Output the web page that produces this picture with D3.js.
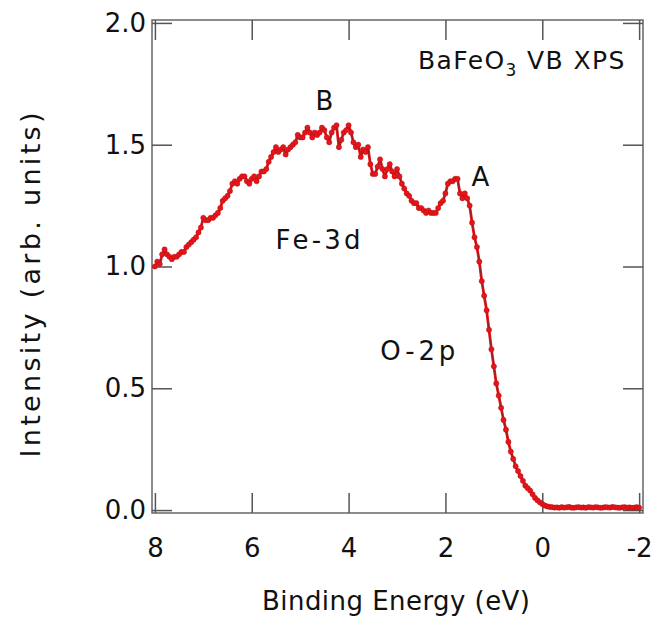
<!DOCTYPE html>
<html>
<head>
<meta charset="utf-8">
<script src="https://cdn.jsdelivr.net/npm/d3@7"></script>
<style>
  html, body { margin: 0; padding: 0; background: #fff; }
  svg { display: block; }
  text { font-family: "DejaVu Sans", Verdana, sans-serif; fill: #111; }
</style>
</head>
<body>
<svg id="chart" width="654" height="618"></svg>
<script>
// Binding energy (eV)
const energy = [
  8.00,7.95,7.90,7.85,7.80,7.75,7.70,7.65,7.60,7.55,
  7.50,7.45,7.40,7.35,7.30,7.25,7.20,7.15,7.10,7.05,
  7.00,6.95,6.90,6.85,6.80,6.75,6.70,6.65,6.60,6.55,
  6.50,6.45,6.40,6.35,6.30,6.25,6.20,6.15,6.10,6.05,
  6.00,5.95,5.90,5.85,5.80,5.75,5.70,5.65,5.60,5.55,
  5.50,5.45,5.40,5.35,5.30,5.25,5.20,5.15,5.10,5.05,
  5.00,4.95,4.90,4.85,4.80,4.75,4.70,4.65,4.60,4.55,
  4.50,4.45,4.40,4.35,4.30,4.25,4.20,4.15,4.10,4.05,
  4.00,3.95,3.90,3.85,3.80,3.75,3.70,3.65,3.60,3.55,
  3.50,3.45,3.40,3.35,3.30,3.25,3.20,3.15,3.10,3.05,
  3.00,2.95,2.90,2.85,2.80,2.75,2.70,2.65,2.60,2.55,
  2.50,2.45,2.40,2.35,2.30,2.25,2.20,2.15,2.10,2.05,
  2.00,1.95,1.90,1.85,1.80,1.75,1.70,1.65,1.60,1.55,
  1.50,1.45,1.40,1.35,1.30,1.25,1.20,1.15,1.10,1.05,
  1.00,0.95,0.90,0.85,0.80,0.75,0.70,0.65,0.60,0.55,
  0.50,0.45,0.40,0.35,0.30,0.25,0.20,0.15,0.10,0.05,
  0.00,-0.05,-0.10,-0.15,-0.20,-0.25,-0.30,-0.35,-0.40,-0.45,
  -0.50,-0.55,-0.60,-0.65,-0.70,-0.75,-0.80,-0.85,-0.90,-0.95,
  -1.00,-1.05,-1.10,-1.15,-1.20,-1.25,-1.30,-1.35,-1.40,-1.45,
  -1.50,-1.55,-1.60,-1.65,-1.70,-1.75,-1.80,-1.85,-1.90,-1.95,
  -2.00
];
// Intensity (arb. units)
const intensity = [
  1.00,1.02,1.01,1.05,1.07,1.05,1.04,1.03,1.04,1.04,
  1.05,1.06,1.06,1.08,1.09,1.10,1.11,1.12,1.14,1.16,
  1.20,1.19,1.19,1.20,1.20,1.21,1.22,1.24,1.27,1.28,
  1.29,1.31,1.34,1.35,1.34,1.36,1.37,1.37,1.35,1.34,
  1.36,1.37,1.35,1.37,1.39,1.39,1.40,1.43,1.45,1.47,
  1.49,1.47,1.48,1.49,1.46,1.48,1.49,1.50,1.51,1.54,
  1.53,1.53,1.55,1.57,1.55,1.53,1.55,1.54,1.55,1.57,
  1.56,1.53,1.51,1.55,1.57,1.58,1.49,1.52,1.55,1.56,
  1.58,1.55,1.51,1.49,1.50,1.45,1.48,1.47,1.49,1.42,
  1.38,1.38,1.41,1.44,1.40,1.37,1.40,1.42,1.39,1.37,
  1.40,1.37,1.34,1.32,1.30,1.29,1.27,1.26,1.26,1.24,
  1.24,1.23,1.22,1.23,1.22,1.22,1.22,1.24,1.26,1.27,
  1.30,1.34,1.35,1.35,1.36,1.36,1.30,1.28,1.30,1.28,
  1.25,1.18,1.12,1.08,1.02,0.94,0.88,0.82,0.74,0.66,
  0.59,0.52,0.47,0.42,0.37,0.33,0.28,0.24,0.21,0.18,
  0.16,0.14,0.12,0.10,0.09,0.08,0.065,0.05,0.04,0.032,
  0.025,0.019,0.015,0.013,0.012,0.010,0.011,0.009,0.012,0.010,
  0.011,0.013,0.010,0.009,0.011,0.012,0.010,0.011,0.009,0.012,
  0.011,0.010,0.012,0.011,0.009,0.010,0.012,0.011,0.010,0.013,
  0.011,0.010,0.009,0.011,0.012,0.010,0.011,0.009,0.010,0.012,
  0.010
];
const xTicks = [8, 6, 4, 2, 0, -2];
const xTickLabels = ["8", "6", "4", "2", "0", "-2"];
const yTicks = [0.0, 0.5, 1.0, 1.5, 2.0];
const yTickLabels = ["0.0", "0.5", "1.0", "1.5", "2.0"];
const annotations = [
  {text: "B", x: 4.5, y: 1.68, len: null},
  {text: "A", x: 1.28, y: 1.37, len: null},
  {text: "Fe-3d", x: 4.63, y: 1.11, len: 85},
  {text: "O-2p", x: 2.57, y: 0.655, len: 75}
];

const svg = d3.select("#chart");
const L = 152, R = 643, T = 20, B = 513;
const x = d3.scaleLinear().domain([8.06, -2.08]).range([L, R]);
const y = d3.scaleLinear().domain([-0.012, 2.012]).range([B, T]);
const tickCol = "#555";

// frame
svg.append("rect").attr("x", L).attr("y", T).attr("width", R - L).attr("height", B - T)
  .attr("fill", "none").attr("stroke", "#666").attr("stroke-width", 1.5);

function styleAxis(g) {
  g.select(".domain").remove();
  g.selectAll(".tick line").attr("stroke", tickCol).attr("stroke-width", 1.5);
  g.selectAll(".tick text").style("font-family", '"DejaVu Sans", Verdana, sans-serif')
    .style("font-size", "26px").attr("fill", "#111");
}

svg.append("g").attr("transform", `translate(0,${B})`)
  .call(d3.axisBottom(x).tickValues(xTicks).tickSizeInner(-20).tickSizeOuter(0).tickPadding(26)
    .tickFormat((d, i) => xTickLabels[i]))
  .call(styleAxis);
svg.append("g").attr("transform", `translate(0,${T})`)
  .call(d3.axisTop(x).tickValues(xTicks).tickSizeInner(-20).tickSizeOuter(0).tickFormat(""))
  .call(styleAxis);
svg.append("g").attr("transform", `translate(${L},0)`)
  .call(d3.axisLeft(y).tickValues(yTicks).tickSizeInner(-20).tickSizeOuter(0).tickPadding(6)
    .tickFormat((d, i) => yTickLabels[i]))
  .call(styleAxis);
svg.append("g").attr("transform", `translate(${R},0)`)
  .call(d3.axisRight(y).tickValues(yTicks).tickSizeInner(-20).tickSizeOuter(0).tickFormat(""))
  .call(styleAxis);

// axis titles
svg.append("text").attr("x", 396).attr("y", 610).attr("text-anchor", "middle")
  .attr("textLength", 268).attr("lengthAdjust", "spacing")
  .style("font-size", "26px").text("Binding Energy (eV)");
svg.append("text").attr("transform", "translate(40,285) rotate(-90)").attr("text-anchor", "middle")
  .attr("textLength", 345).attr("lengthAdjust", "spacing")
  .style("font-size", "27px").text("Intensity (arb. units)");

// data
const data = energy.map((e, i) => ({e, v: intensity[i]}));
const line = d3.line().x(d => x(d.e)).y(d => y(d.v));
svg.append("path").datum(data).attr("d", line).attr("fill", "none")
  .attr("stroke", "#e8141b").attr("stroke-width", 2.8).attr("stroke-linejoin", "round");
svg.append("path").datum(data).attr("d", line).attr("fill", "none")
  .attr("stroke", "#6b2a2a").attr("stroke-width", 0.8);
svg.append("g").selectAll("circle").data(data).join("circle")
  .attr("cx", d => x(d.e)).attr("cy", d => y(d.v)).attr("r", 2.6)
  .attr("fill", "#e8141b").attr("stroke", "#b01010").attr("stroke-width", 0.5);

// annotations
svg.append("g").selectAll("text").data(annotations).join("text")
  .attr("x", d => x(d.x)).attr("y", d => y(d.y))
  .attr("text-anchor", "middle").attr("dy", "0.36em")
  .each(function(d) { if (d.len) d3.select(this).attr("textLength", d.len).attr("lengthAdjust", "spacing"); })
  .style("font-size", "26px").text(d => d.text);

const title = svg.append("text").attr("x", 418).attr("y", 69).style("font-size", "25px")
  .style("letter-spacing", "1.4px");
title.append("tspan").text("BaFeO");
title.append("tspan").attr("dy", 7).style("font-size", "17px").text("3");
title.append("tspan").attr("dy", -7).text(" VB XPS");
</script>
</body>
</html>
